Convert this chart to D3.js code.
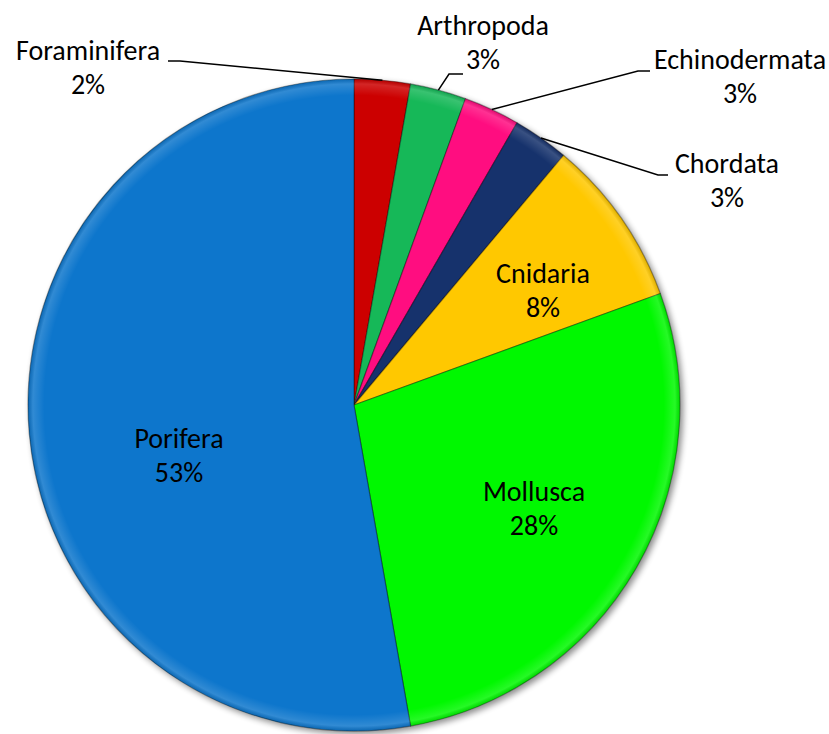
<!DOCTYPE html>
<html>
<head>
<meta charset="utf-8">
<script src="https://cdn.jsdelivr.net/npm/d3@7"></script>
<style>
	body { margin: 0; background: #fff; }
	text { font-family: Carlito, Calibri, Lato, sans-serif; font-size: 28px; fill: #000; }
</style>
</head>
<body>
<div id="content"></div>
<script>
// Phylum counts, clockwise from 12 o'clock
var phyla = ["Foraminifera", "Arthropoda", "Echinodermata", "Chordata", "Cnidaria", "Mollusca", "Porifera"];
var counts = [1, 1, 1, 1, 3, 10, 19];
var pctLabels = ["2%", "3%", "3%", "3%", "8%", "28%", "53%"];
var colors = ["#cc0000", "#12b858", "#ff0a80", "#17306c", "#ffc800", "#00f800", "#0a76cc"];

// label layout (centre x, first baseline y); outside labels get a leader line
var labelAt = {
	Foraminifera: { x: 88, y: 60, elbow: [180, 61], tail: 168 },
	Arthropoda: { x: 483, y: 35, elbow: [449, 74], tail: 463 },
	Echinodermata: { x: 740, y: 69, elbow: [638, 71], tail: 650 },
	Chordata: { x: 727, y: 173, elbow: [658, 175], tail: 668 },
	Cnidaria: { x: 543, y: 283 },
	Mollusca: { x: 534, y: 501 },
	Porifera: { x: 179, y: 448 }
};

function main() {
	var width = 829, height = 734;
	var cx = 354, cy = 405, radius = 326;

	var svg = d3.select("#content").append("svg")
		.attr("width", width)
		.attr("height", height);

	var defs = svg.append("defs");

	// soft drop shadow, bottom-right
	var shadow = defs.append("filter").attr("id", "shadow")
		.attr("x", "-10%").attr("y", "-10%").attr("width", "125%").attr("height", "125%");
	shadow.append("feGaussianBlur").attr("in", "SourceAlpha").attr("stdDeviation", 3).attr("result", "blur");
	shadow.append("feOffset").attr("dx", 3).attr("dy", 3).attr("result", "off");
	shadow.append("feComponentTransfer").append("feFuncA").attr("type", "linear").attr("slope", 0.45);
	var merge = shadow.append("feMerge");
	merge.append("feMergeNode");
	merge.append("feMergeNode").attr("in", "SourceGraphic");

	// rim highlight for the bevel look
	var rim = defs.append("radialGradient").attr("id", "rim")
		.attr("gradientUnits", "userSpaceOnUse")
		.attr("cx", 0).attr("cy", 0).attr("r", radius);
	rim.append("stop").attr("offset", 0.95).attr("stop-color", "#fff").attr("stop-opacity", 0);
	rim.append("stop").attr("offset", 0.985).attr("stop-color", "#fff").attr("stop-opacity", 0.15);
	rim.append("stop").attr("offset", 1).attr("stop-color", "#000").attr("stop-opacity", 0.12);

	var data = phyla.map(function (p, i) {
		return { name: p, value: counts[i], pct: pctLabels[i], color: colors[i] };
	});

	var pie = d3.pie()
		.sort(null)
		.value(function (d) { return d.value; });

	var arc = d3.arc()
		.innerRadius(0)
		.outerRadius(radius);

	var arcs = pie(data);

	var g = svg.append("g")
		.attr("transform", "translate(" + cx + "," + cy + ")");

	var pieGroup = g.append("g").attr("filter", "url(#shadow)");

	pieGroup.selectAll("path.slice")
		.data(arcs)
		.enter().append("path")
		.attr("class", "slice")
		.attr("d", arc)
		.attr("fill", function (d) { return d.data.color; })
		.attr("stroke", "rgba(0,0,0,0.35)")
		.attr("stroke-width", 1.2)
		.attr("stroke-linejoin", "round");

	g.append("circle")
		.attr("r", radius)
		.attr("fill", "url(#rim)")
		.attr("pointer-events", "none");

	// leader lines
	arcs.forEach(function (d) {
		var lab = labelAt[d.data.name];
		if (!lab.elbow) return;
		var a = (d.startAngle + d.endAngle) / 2;
		var px = cx + radius * Math.sin(a), py = cy - radius * Math.cos(a);
		var pts = [[px, py], lab.elbow, [lab.tail, lab.elbow[1]]];
		svg.append("path")
			.attr("d", d3.line()(pts))
			.attr("fill", "none")
			.attr("stroke", "#000")
			.attr("stroke-width", 1.5);
	});

	// labels
	var labels = svg.selectAll("g.label")
		.data(arcs)
		.enter().append("g")
		.attr("class", "label");

	labels.append("text")
		.attr("x", function (d) { return labelAt[d.data.name].x; })
		.attr("y", function (d) { return labelAt[d.data.name].y; })
		.attr("text-anchor", "middle")
		.text(function (d) { return d.data.name; });

	labels.append("text")
		.attr("x", function (d) { return labelAt[d.data.name].x; })
		.attr("y", function (d) { return labelAt[d.data.name].y + 34; })
		.attr("text-anchor", "middle")
		.text(function (d) { return d.data.pct; });
}

main();
</script>
</body>
</html>
